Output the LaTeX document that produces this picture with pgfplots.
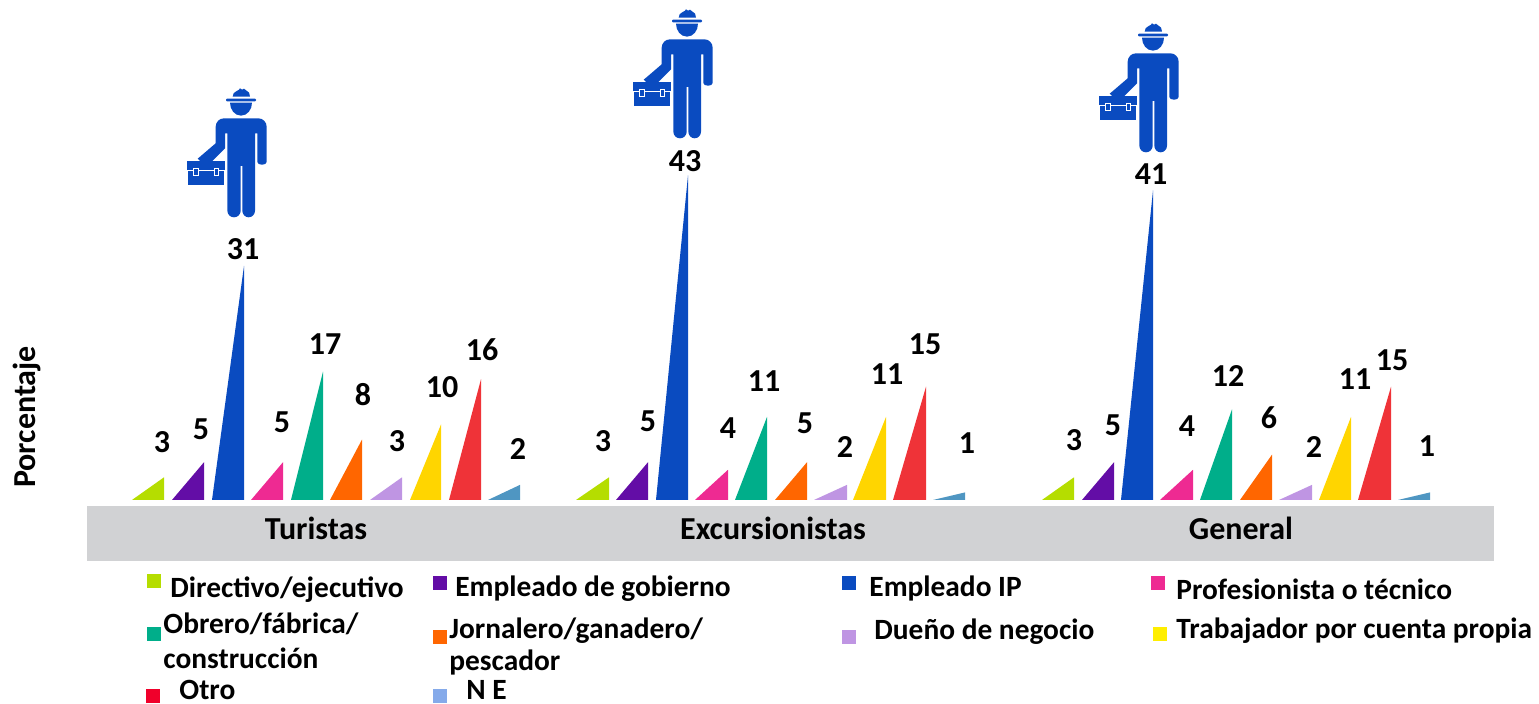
\documentclass[border=0pt]{standalone}
\usepackage{fontspec}
\setmainfont{Carlito}
\usepackage{pgfplots}
\pgfplotsset{compat=1.18}

\definecolor{cgreen}{HTML}{B5DD00}
\definecolor{cpurple}{HTML}{630DA6}
\definecolor{cblue}{HTML}{0A4BC0}
\definecolor{cpink}{HTML}{EE2A92}
\definecolor{cteal}{HTML}{00AE8A}
\definecolor{corange}{HTML}{FF6600}
\definecolor{clilac}{HTML}{BF95E3}
\definecolor{cyellow}{HTML}{FFD500}
\definecolor{cred}{HTML}{EF3338}
\definecolor{csteel}{HTML}{4F96C2}
\definecolor{cband}{HTML}{D1D2D4}
\definecolor{lyellow}{HTML}{FFEE00}
\definecolor{lred}{HTML}{F0002B}
\definecolor{lsteel}{HTML}{85AAEA}

% triangle: colour, left x, right x, value
\newcommand\tri[4]{\addplot[fill=#1,draw=none,forget plot] coordinates {(#2,0) (#3,#4) (#3,0) (#2,0)};}
% text placed in pixels of the picture
\newcommand\lab[3]{\node[font=\fontsize{16}{16}\selectfont\bfseries,text=black,inner sep=0pt] at (#1,#2) {#3};}
\newcommand\ltext[3]{\node[font=\fontsize{14.7}{15}\selectfont\bfseries,text=black,inner sep=0pt,anchor=west] at (#1,#2) {#3};}
\newcommand\swatch[3]{\fill[#1] (#2,#3) rectangle ++(14,14);}

\newcommand\worker[2]{%
\begin{scope}[shift={(#1,#2)},x=.16667pt,y=-.16667pt]
  \fill[cblue] (338,50) to[out=90,in=200] (350,33) -- (356,30) -- (360,25) -- (366,29) -- (372,26) -- (378,31) to[out=-10,in=90] (390,50) -- cycle;
  \fill[cblue,rounded corners=.5pt] (318,56) rectangle (408,64);
  \fill[cblue] (330,68) to[out=-90,in=180] (363,107) to[out=0,in=-90] (396,68) -- cycle;
  \fill[cblue] (287,140) to[out=90,in=180] (312,115) -- (415,115) to[out=0,in=90] (440,140)
    -- (440,246) to[out=-90,in=-90] (412,246) -- (412,160) -- (405,160) -- (405,392)
    to[out=-90,in=0] (386,412) to[out=180,in=-90] (367,392) -- (367,258) -- (362,258) -- (362,392)
    to[out=-90,in=0] (342,412) to[out=180,in=-90] (322,392) -- (322,160) -- (315,160) -- (315,205)
    -- (277,243) -- (240,243) -- (233,236) -- (245,226) -- (287,190) -- cycle;
  \fill[cblue] (202,243) rectangle (315,272);
  \fill[cblue] (205,270) rectangle (312,315);
  \draw[white,line width=.35pt] (202,272) -- (315,272);
  \fill[cblue] (220,265) rectangle (236,287);
  \fill[cblue] (281,265) rectangle (297,287);
  \draw[white,line width=.35pt] (221,266) rectangle (235,286);
  \draw[white,line width=.35pt] (282,266) rectangle (296,286);
\end{scope}}

\begin{document}
\begin{tikzpicture}
\useasboundingbox (0,0) rectangle (769.5pt,352pt);
\begin{axis}[
  scale only axis,
  width=769.5pt,
  height=352pt,
  xmin=0, xmax=1539,
  ymin=-27.02, ymax=66.22,
  hide axis,
  clip=false,
]
% Turistas
\tri{cgreen}{132}{164}{3}
\tri{cpurple}{172}{204}{5}
\tri{cblue}{212}{244}{31}
\tri{cpink}{251}{283}{5}
\tri{cteal}{291}{323}{17}
\tri{corange}{330}{362}{8}
\tri{clilac}{370}{402}{3}
\tri{cyellow}{410}{441}{10}
\tri{cred}{449}{481}{16}
\tri{csteel}{488}{520}{2}
% Excursionistas
\tri{cgreen}{576}{609}{3}
\tri{cpurple}{616}{648}{5}
\tri{cblue}{656}{688}{43}
\tri{cpink}{695}{728}{4}
\tri{cteal}{735}{767}{11}
\tri{corange}{775}{807}{5}
\tri{clilac}{814}{847}{2}
\tri{cyellow}{853}{886}{11}
\tri{cred}{893}{926}{15}
\tri{csteel}{933}{965}{1}
% General
\tri{cgreen}{1042}{1074}{3}
\tri{cpurple}{1082}{1114}{5}
\tri{cblue}{1121}{1153}{41}
\tri{cpink}{1160}{1193}{4}
\tri{cteal}{1200}{1232}{12}
\tri{corange}{1240}{1272}{6}
\tri{clilac}{1279}{1312}{2}
\tri{cyellow}{1319}{1351}{11}
\tri{cred}{1358}{1391}{15}
\tri{csteel}{1398}{1430}{1}
\end{axis}

\begin{scope}[x=.5pt,y=-.5pt,yshift=352pt]
  \fill[cband] (87,506) rectangle (1494,561);

  \node[rotate=90,font=\fontsize{16}{16}\selectfont\bfseries,inner sep=0pt] at (27,417) {Porcentaje};

  \lab{316}{528}{Turistas}
  \lab{773}{528}{Excursionistas}
  \lab{1241}{528}{General}

  % value labels
  \lab{162}{442}{3}\lab{201}{429}{5}\lab{243}{249}{31}\lab{282}{422}{5}\lab{325}{344}{17}
  \lab{363}{395}{8}\lab{397}{441}{3}\lab{442}{387}{10}\lab{482}{350}{16}\lab{518}{449}{2}
  \lab{603}{441}{3}\lab{648}{421}{5}\lab{685}{161}{43}\lab{728}{428}{4}\lab{764}{381}{11}
  \lab{805}{423}{5}\lab{845}{447}{2}\lab{887}{374}{11}\lab{925}{344}{15}\lab{967}{443}{1}
  \lab{1074}{440}{3}\lab{1113}{425}{5}\lab{1151}{174}{41}\lab{1187}{426}{4}\lab{1228}{376}{12}
  \lab{1269}{418}{6}\lab{1314}{447}{2}\lab{1355}{379}{11}\lab{1392}{360}{15}\lab{1427}{446}{1}

  \worker{120}{80}
  \worker{566}{1}
  \worker{1032}{15}

  % legend
  \swatch{cgreen}{147}{574}
  \swatch{cpurple}{433}{576}
  \swatch{cblue}{842}{576}
  \swatch{cpink}{1151}{576}
  \swatch{cteal}{147}{627}
  \swatch{corange}{433}{630}
  \swatch{clilac}{842}{630}
  \swatch{lyellow}{1153}{627}
  \swatch{lred}{146}{689}
  \swatch{lsteel}{433}{689}

  \ltext{170}{590}{Directivo/ejecutivo}
  \ltext{455}{589}{Empleado de gobierno}
  \ltext{869}{589}{Empleado IP}
  \ltext{1176}{589}{Profesionista o técnico}
  \ltext{163}{624}{Obrero/fábrica/}
  \ltext{163}{658}{construcción}
  \ltext{449}{631}{Jornalero/ganadero/}
  \ltext{449}{663}{pescador}
  \ltext{874}{632}{Dueño de negocio}
  \ltext{1176}{631}{Trabajador por cuenta propia}
  \ltext{179}{690}{Otro}
  \ltext{466}{690}{N E}
\end{scope}
\end{tikzpicture}
\end{document}
